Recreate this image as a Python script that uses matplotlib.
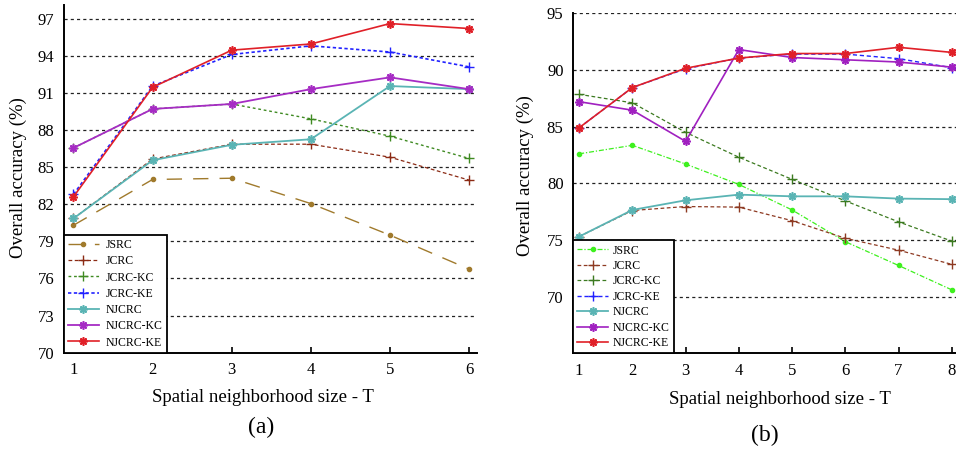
import numpy as np
import matplotlib
matplotlib.use('Agg')
import matplotlib.pyplot as plt

plt.rcParams['font.family'] = ['Liberation Serif', 'DejaVu Serif']

labels = ['JSRC', 'JCRC', 'JCRC-KC', 'JCRC-KE', 'NJCRC', 'NJCRC-KC', 'NJCRC-KE']

# panel (a)
t_a = [1, 2, 3, 4, 5, 6]
jsrc_a = [80.3, 84.0, 84.1, 82.05, 79.5, 76.75]
jcrc_a = [80.85, 85.65, 86.85, 86.85, 85.8, 83.95]
jcrc_kc_a = [86.55, 89.7, 90.1, 88.9, 87.5, 85.7]
jcrc_ke_a = [82.8, 91.55, 94.1, 94.8, 94.3, 93.1]
njcrc_a = [80.85, 85.55, 86.8, 87.25, 91.55, 91.3]
njcrc_kc_a = [86.55, 89.7, 90.1, 91.3, 92.25, 91.3]
njcrc_ke_a = [82.6, 91.45, 94.45, 94.95, 96.6, 96.2]

# panel (b)
t_b = [1, 2, 3, 4, 5, 6, 7, 8]
jsrc_b = [82.6, 83.35, 81.7, 79.9, 77.65, 74.85, 72.75, 70.6]
jcrc_b = [75.3, 77.6, 77.95, 77.9, 76.7, 75.15, 74.1, 72.85]
jcrc_kc_b = [87.85, 87.1, 84.5, 82.3, 80.35, 78.45, 76.6, 74.9]
jcrc_ke_b = [84.9, 88.45, 90.1, 91.05, 91.4, 91.4, 91.0, 90.2]
njcrc_b = [75.3, 77.65, 78.5, 79.0, 78.85, 78.85, 78.65, 78.6]
njcrc_kc_b = [87.2, 86.45, 83.7, 91.8, 91.1, 90.9, 90.7, 90.25]
njcrc_ke_b = [84.9, 88.45, 90.15, 91.05, 91.45, 91.45, 92.0, 91.55]

yt_a = [70, 73, 76, 79, 82, 85, 88, 91, 94, 97]
yt_b = [70, 75, 80, 85, 90, 95]

W, H = 956, 449
fig = plt.figure(figsize=(W / 100, H / 100), dpi=100)


def box(l, t, r, b):
    return [l / W, 1 - b / H, (r - l) / W, (b - t) / H]


star = (8, 2, 0)


def setup(ax, xlim, ylim, yt, xt):
    ax.set_xlim(*xlim)
    ax.set_ylim(*ylim)
    ax.set_yticks(yt)
    ax.set_xticks(xt)
    for s in ['top', 'right']:
        ax.spines[s].set_visible(False)
    for s in ['left', 'bottom']:
        ax.spines[s].set_linewidth(1.4)
    ax.tick_params(axis='x', direction='in', length=4, width=1.2, pad=7, labelsize=12)
    ax.tick_params(axis='y', length=0, pad=7, labelsize=12)
    ax.yaxis.grid(True, linestyle=(0, (2.5, 2.5)), color='#222222', lw=0.9)
    ax.set_axisbelow(True)


# ---- (a)
ax1 = fig.add_axes(box(64, 5, 477, 352.7))
setup(ax1, (0.88, 6.1), (70, 98.1), yt_a, t_a)
ax1.plot(t_a, jsrc_a, color='#a07a2c', ls=(0, (11, 8)), lw=1.0, marker='o', ms=3, label=labels[0])
ax1.plot(t_a, jcrc_a, color='#8b2a14', ls=(0, (3, 2)), lw=0.9, marker='+', ms=7, mew=1.0, label=labels[1])
ax1.plot(t_a, jcrc_kc_a, color='#3f8a22', ls=(0, (2, 2)), lw=1.0, marker='+', ms=7, mew=1.0, label=labels[2])
ax1.plot(t_a, jcrc_ke_a, color='#2222ff', ls=(0, (2, 1.5)), lw=1.2, marker='+', ms=7, mew=1.0, label=labels[3])
ax1.plot(t_a, njcrc_a, color='#5ab4b4', ls='-', lw=1.3, marker=star, ms=6, mew=1.2, label=labels[4])
ax1.plot(t_a, njcrc_kc_a, color='#a62cc4', ls='-', lw=1.3, marker=star, ms=6, mew=1.2, label=labels[5])
ax1.plot(t_a, njcrc_ke_a, color='#e02028', ls='-', lw=1.2, marker=star, ms=6, mew=1.2, label=labels[6])
leg1 = ax1.legend(loc='lower left', bbox_to_anchor=(0, 0), borderaxespad=0, fancybox=False,
                  edgecolor='black', framealpha=1, fontsize=8.5, numpoints=1, handlelength=2.6,
                  handletextpad=0.6, labelspacing=0.36, borderpad=0.35)
leg1.get_frame().set_linewidth(1.3)
leg1.set_zorder(10)

# ---- (b)
ax2 = fig.add_axes(box(573.3, 13.3, 956, 353.3))
setup(ax2, (0.89, 8.08), (65, 95), yt_b, t_b)
ax2.plot(t_b, jsrc_b, color='#3ef01e', ls=(0, (4, 1.5, 1, 1.5)), lw=0.9, marker='o', ms=3, label=labels[0])
ax2.plot(t_b, jcrc_b, color='#8e3a22', ls=(0, (3, 2)), lw=0.9, marker='+', ms=7, mew=1.0, label=labels[1])
ax2.plot(t_b, jcrc_kc_b, color='#3c7a20', ls=(0, (3, 2)), lw=0.9, marker='+', ms=7, mew=1.0, label=labels[2])
ax2.plot(t_b, jcrc_ke_b, color='#2222ff', ls=(0, (3, 2)), lw=1.0, marker='+', ms=7, mew=1.0, label=labels[3])
ax2.plot(t_b, njcrc_b, color='#5ab4b4', ls='-', lw=1.3, marker=star, ms=6, mew=1.2, label=labels[4])
ax2.plot(t_b, njcrc_kc_b, color='#a020c0', ls='-', lw=1.2, marker=star, ms=6, mew=1.2, label=labels[5])
ax2.plot(t_b, njcrc_ke_b, color='#e02028', ls='-', lw=1.2, marker=star, ms=6, mew=1.2, label=labels[6])
leg2 = ax2.legend(loc='lower left', bbox_to_anchor=(0, 0), borderaxespad=0, fancybox=False,
                  edgecolor='black', framealpha=1, fontsize=8.5, numpoints=1, handlelength=2.6,
                  handletextpad=0.4, labelspacing=0.29, borderpad=0.35)
leg2.get_frame().set_linewidth(1.3)
leg2.set_zorder(10)


def ftext(x, y, s, **kw):
    fig.text(x / W, 1 - y / H, s, ha='center', va='center', **kw)


ftext(18, 178, 'Overall accuracy (%)', rotation=90, fontsize=13.5)
ftext(262.7, 398, 'Spatial neighborhood size - T', fontsize=13.5)
ftext(261.5, 427, '(a)', fontsize=17)
ftext(525, 176, 'Overall accuracy (%)', rotation=90, fontsize=13.5)
ftext(780, 400, 'Spatial neighborhood size - T', fontsize=13.5)
ftext(765, 435, '(b)', fontsize=17)

fig.savefig('out.png', dpi=100)
